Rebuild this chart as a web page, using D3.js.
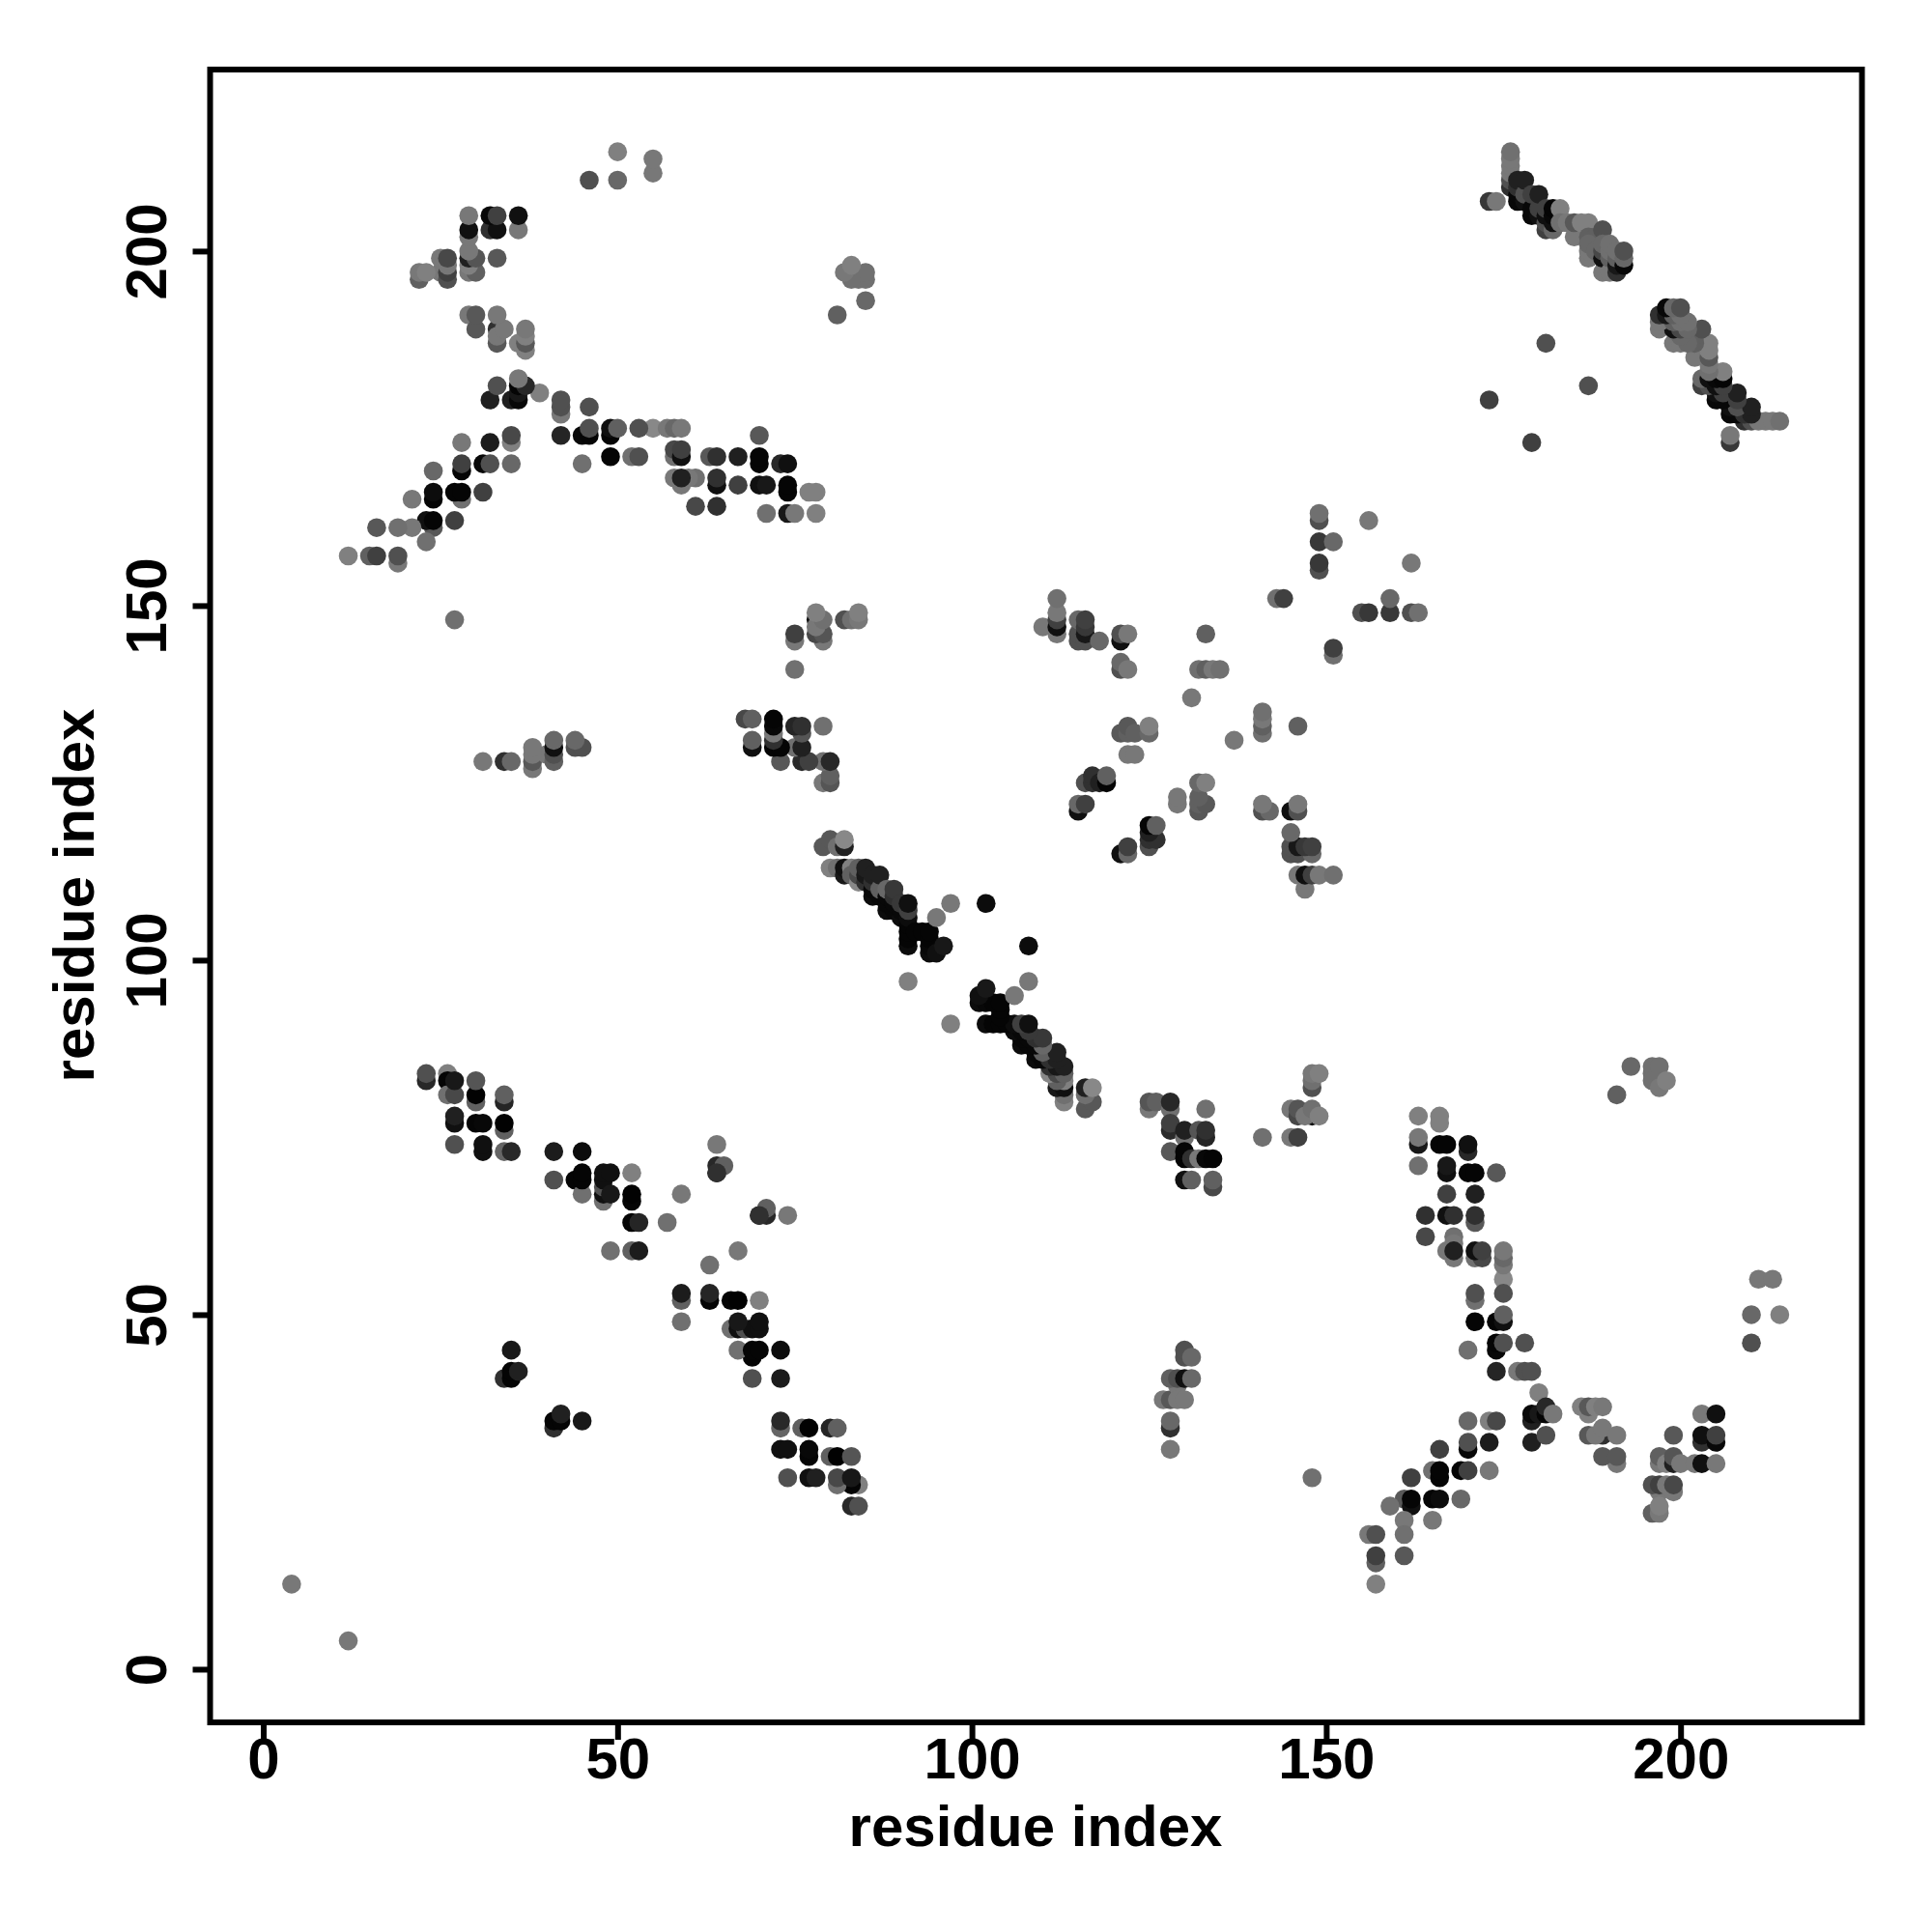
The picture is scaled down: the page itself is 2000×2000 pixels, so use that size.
<!DOCTYPE html>
<html><head><meta charset="utf-8">
<script src="https://cdn.jsdelivr.net/npm/d3@7"></script>
<style>html,body{margin:0;padding:0;background:#fff}svg{display:block}</style>
</head><body><svg id="c" width="2000" height="2000"></svg>
<script>
// Each contact: [residue a, residue b, grey level]; the map is symmetric, so each is plotted at (a,b) and (b,a).
const xTicks = [0, 50, 100, 150, 200];
const yTicks = [0, 50, 100, 150, 200];
const xTitle = "residue index";
const yTitle = "residue index";

const sheetOneTwo = [
[23,83,0x28],[23,84,0x50],[26,84,0x80],[26,83,0x05],[26,81,0x70],[27,81,0x48],[27,83,0x18],[30,80,0x60],[30,81,0x02],[30,83,0x55],
[34,80,0x25],[34,81,0x60],[27,77,0x10],[27,78,0x20],[30,77,0x05],[31,77,0x08],[34,76,0x60],[34,77,0x02],
[27,74,0x50],[31,73,0x10],[31,74,0x10],[34,73,0x65],[35,73,0x28],[41,73,0x1c],[45,73,0x0c],
[41,69,0x50],[44,69,0x05],[45,67,0x70],[45,69,0x05],[45,70,0x05],[48,66,0x70],[48,67,0x10],[48,68,0x50],[48,69,0x10],[48,70,0x10],[49,70,0x10],[49,67,0x18],
[52,70,0x80],[52,66,0x05],[52,67,0x02],[52,63,0x05],[53,63,0x25],[49,59,0x70],[52,59,0x60],[53,59,0x1c],
[64,74,0x78],[64,70,0x20],[64,71,0x28],[65,71,0x60],[59,67,0x78],[57,63,0x70],[64,70,0x30],[35,45,0x18],[34,41,0x30],[35,41,0x05],[35,42,0x05],[36,42,0x20]
];
const strandCentre = [
[79,116,0x58],[80,117,0x58],[81,116,0x70],[82,116,0x20],[82,117,0x88],
[80,113,0x80],[81,113,0x70],[82,112,0x18],[82,113,0x10],[83,113,0x80],[83,112,0x60],[84,111,0x88],[84,112,0x48],[84,113,0x60],[85,111,0x30],[85,112,0x18],[85,113,0x20],
[86,109,0x0c],[86,110,0x08],[86,111,0x30],[86,112,0x20],[87,109,0x08],[87,110,0x60],[87,112,0x20],[88,107,0x0c],[88,108,0x08],[88,109,0x08],[88,110,0x68],
[89,107,0x08],[89,108,0x08],[89,109,0x30],[89,110,0x38],[90,106,0x0c],[90,107,0x08],[90,108,0x38],[91,102,0x0c],[91,103,0x05],[91,104,0x05],[91,105,0x05],[91,106,0x0c],[91,107,0x40],[91,108,0x10],
[92,104,0x05],[93,104,0x05],[94,101,0x0c],[94,102,0x08],[94,103,0x05],[94,104,0x05],[95,101,0x10],[96,102,0x18],
[95,106,0x78],[97,108,0x78],[102,108,0x0c],[91,97,0x80]
];
const sheetThree = [
[125,79,0x78],[125,80,0x55],[126,80,0x60],[128,79,0x70],[128,80,0x28],[133,79,0x70],
[128,76,0x2a],[128,77,0x40],[130,75,0x70],[130,76,0x20],[132,76,0x55],[133,75,0x25],[133,76,0x30],
[128,73,0x58],[130,72,0x05],[130,73,0x05],[131,72,0x30],[132,72,0x78],[133,72,0x08],[134,72,0x05],
[130,69,0x10],[131,69,0x60],[134,68,0x48],[134,69,0x60],
[141,75,0x70],[145,75,0x78],[146,75,0x40],[145,79,0x78],[146,78,0x48],[146,79,0x55],[148,78,0x10],[147,78,0x78],[148,79,0x70],[149,78,0x80],
[148,82,0x50],[148,83,0x70],[148,84,0x78],[149,84,0x80],[148,27,0x70]
];
const arcRight = [
[163,78,0x80],[166,77,0x80],[166,78,0x80],[163,74,0x18],[163,75,0x78],[166,74,0x05],[167,74,0x05],[170,73,0x28],[170,74,0x10],
[163,71,0x70],[167,70,0x10],[167,71,0x18],[170,70,0x05],[171,70,0x05],[174,70,0x58],[167,67,0x40],[171,67,0x20],
[164,64,0x30],[167,64,0x10],[168,64,0x30],[171,63,0x58],[171,64,0x30],[164,61,0x48],[168,61,0x70],[168,60,0x78],
[168,58,0x78],[167,59,0x78],[168,59,0x20],[171,58,0x70],[172,58,0x48],[171,59,0x10],[172,59,0x40],
[175,55,0x88],[175,57,0x78],[175,58,0x68],[175,59,0x78],[175,53,0x50],[171,52,0x70],[171,53,0x50],
[171,49,0x05],[174,49,0x05],[175,49,0x10],[175,50,0x60],[174,45,0x08],[174,46,0x05],[175,46,0x50],[178,46,0x50],[170,45,0x70],
[174,42,0x25],[177,42,0x78],[178,42,0x50],[179,42,0x50],[180,39,0x80],
[179,35,0x20],[179,36,0x08],[180,36,0x18],[181,36,0x05],[181,37,0x28],[182,36,0x78],[179,32,0x20],[181,33,0x50],
[170,35,0x68],[173,35,0x80],[174,35,0x48],[170,31,0x08],[170,32,0x50],[173,32,0x1c],
[166,31,0x40],[165,28,0x70],[166,27,0x05],[166,28,0x05],[169,28,0x05],[170,28,0x40],[173,28,0x78],
[162,27,0x40],[161,24,0x58],[162,23,0x10],[162,24,0x05],[165,24,0x05],[166,24,0x0c],[169,24,0x68],
[159,23,0x70],[161,21,0x78],[165,21,0x78],[161,19,0x70],[156,19,0x78],[157,19,0x50],[157,15,0x60],[157,16,0x40],[161,16,0x58],[157,12,0x80]
];
const arcFar = [
[187,36,0x80],[186,37,0x80],[187,37,0x58],[188,37,0x80],[189,37,0x78],
[187,33,0x58],[189,33,0x30],[188,33,0x78],[189,34,0x78],[191,33,0x78],[191,29,0x78],[189,30,0x58],[191,30,0x58],
[197,29,0x78],[197,30,0x60],[198,29,0x80],[199,29,0x20],[199,30,0x55],[200,29,0x78],[199,33,0x58],
[202,29,0x78],[203,29,0x10],[205,29,0x78],[203,36,0x78],[205,36,0x10],[203,32,0x30],[203,33,0x10],[205,32,0x08],[205,33,0x40],
[197,25,0x78],[199,25,0x78],[196,26,0x50],[197,26,0x40],[198,26,0x78],[199,26,0x48],
[196,22,0x60],[197,22,0x78],[197,23,0x80],
[210,46,0x50],[210,50,0x68],[214,50,0x80],[211,55,0x78],[213,55,0x78],[4,12,0x78],
[128,34,0x30],[128,35,0x68],[128,31,0x78],[127,38,0x78],[128,38,0x58],[129,40,0x78],[129,38,0x78],[130,38,0x78],
[128,41,0x60],[129,41,0x50],[130,41,0x10],[131,41,0x68],[130,44,0x50],[130,45,0x50],[131,44,0x68],
[191,81,0x60],[193,85,0x68],[196,84,0x70],[196,85,0x70],[197,85,0x70],[196,83,0x70],[197,82,0x78],[198,83,0x80]
];
const sheetFourFive = [
[110,147,0x78],[112,146,0x78],[112,147,0x10],[112,148,0x40],[112,149,0x78],[112,151,0x70],
[115,145,0x50],[115,146,0x50],[115,148,0x68],[116,145,0x50],[116,146,0x18],[116,147,0x38],[116,148,0x40],[118,145,0x68],
[121,145,0x10],[121,146,0x50],[122,146,0x78],[121,141,0x50],[121,142,0x68],[122,141,0x78],
[133,146,0x60],[132,141,0x70],[133,141,0x60],[134,141,0x78],[135,141,0x70],[131,137,0x78],
[121,132,0x58],[122,132,0x60],[122,133,0x58],[123,132,0x60],[125,132,0x68],[125,133,0x80],[122,129,0x78],[123,129,0x78],
[116,125,0x50],[117,125,0x30],[117,126,0x30],[118,125,0x20],[119,125,0x05],[119,126,0x60],
[115,121,0x10],[115,122,0x68],[116,122,0x40],
[149,155,0x50],[149,156,0x38],[149,159,0x38],[151,159,0x68],[149,162,0x50],[149,163,0x70],[156,162,0x78],
[143,151,0x70],[144,151,0x40]
];
const strandEnd = [
[173,207,0x38],[174,207,0x78],[176,209,0x30],[176,210,0x50],[176,211,0x78],[176,212,0x78],[176,213,0x78],[176,214,0x70],
[177,207,0x08],[177,208,0x08],[177,209,0x30],[177,210,0x20],[178,207,0x10],[178,208,0x50],[178,210,0x20],
[179,205,0x08],[179,206,0x08],[179,208,0x40],[180,205,0x10],[180,206,0x40],[180,208,0x20],
[181,203,0x40],[181,204,0x50],[181,205,0x10],[181,206,0x40],[182,203,0x68],[182,204,0x10],[182,205,0x08],[182,206,0x05],[183,206,0x80],
[183,204,0x70],[184,204,0x78],[185,202,0x78],[185,204,0x58],[186,204,0x80],[187,204,0x80],[187,202,0x60],[188,202,0x60],[189,203,0x50],
[187,199,0x78],[187,200,0x78],[187,201,0x68],[188,200,0x68],[189,197,0x78],[189,199,0x10],[189,200,0x48],[189,201,0x68],
[190,197,0x78],[190,199,0x60],[190,200,0x70],[190,201,0x70],[191,197,0x30],[191,198,0x18],[191,199,0x60],[191,200,0x70],
[192,198,0x08],[192,199,0x68],[192,200,0x50],
[181,187,0x50],[173,179,0x40]
];

const contacts = [].concat(sheetOneTwo, strandCentre, sheetThree, arcRight, arcFar, sheetFourFive, strandEnd);
const points = [];
contacts.forEach(d => { points.push({x:d[0], y:d[1], g:d[2]}); points.push({x:d[1], y:d[0], g:d[2]}); });

const svg = d3.select("#c");
const x = d3.scaleLinear().domain([-7.5, 225.6]).range([217.5, 1927.5]);
const y = d3.scaleLinear().domain([-7.5, 225.6]).range([1783, 72]);
const font = "'Liberation Sans', Arial, sans-serif";

svg.append("g").selectAll("circle").data(points).join("circle")
  .attr("cx", d => x(d.x)).attr("cy", d => y(d.y)).attr("r", 9.8)
  .attr("fill", d => d3.rgb(d.g, d.g, d.g).formatHex());

svg.append("rect").attr("x", 217.5).attr("y", 72).attr("width", 1710).attr("height", 1711)
  .attr("fill", "none").attr("stroke", "#000").attr("stroke-width", 6);

const gx = svg.append("g").attr("transform", "translate(0,1783)")
  .call(d3.axisBottom(x).tickValues(xTicks).tickSize(18).tickPadding(10));
const gy = svg.append("g").attr("transform", "translate(217.5,0)")
  .call(d3.axisLeft(y).tickValues(yTicks).tickSize(18).tickPadding(10));
[gx, gy].forEach(g => {
  g.select(".domain").remove();
  g.selectAll("line").attr("stroke", "#000").attr("stroke-width", 6);
  g.selectAll("text").attr("fill", "#000").attr("font-family", font).attr("font-weight", "bold").attr("font-size", 60);
});
gx.selectAll("text").attr("dy", null).attr("y", 58).attr("dominant-baseline", "auto");
gy.selectAll("text").attr("dy", null).attr("x", null).attr("y", null)
  .attr("text-anchor", "middle").attr("transform", "translate(-46,0) rotate(-90)");

svg.append("text").attr("x", 1072).attr("y", 1911).attr("text-anchor", "middle")
  .attr("font-family", font).attr("font-weight", "bold").attr("font-size", 60).text(xTitle);
svg.append("text").attr("transform", "translate(97,927) rotate(-90)").attr("text-anchor", "middle")
  .attr("font-family", font).attr("font-weight", "bold").attr("font-size", 60).text(yTitle);
</script></body></html>
